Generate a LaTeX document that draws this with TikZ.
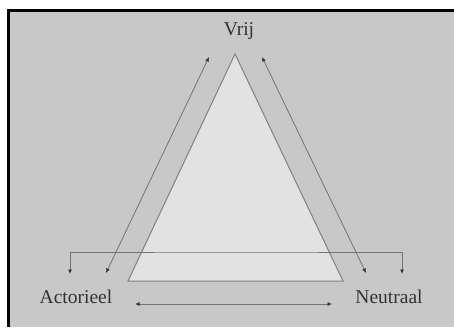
\documentclass[tikz,border=0pt]{standalone}
\usepackage{fontspec}
\setmainfont{Liberation Serif}
\usetikzlibrary{positioning,calc,arrows.meta}
\definecolor{panel}{gray}{0.785}
\definecolor{tri}{gray}{0.885}
\definecolor{lijn}{gray}{0.45}
\definecolor{tekst}{gray}{0.2}
\tikzset{lbl/.style={text=tekst, font=\fontsize{19.5}{22}\selectfont, inner sep=0pt}}
\tikzset{arr/.style={draw=lijn, line width=0.8pt, {Latex[length=4.5pt,width=4pt,color=black!80]}-{Latex[length=4.5pt,width=4pt,color=black!80]}}}
\tikzset{tri/.style={draw=lijn!90, line width=1pt, fill=tri}}

\begin{document}
\begin{tikzpicture}[x=1pt, y=-1pt]
			\useasboundingbox (0,0) rectangle (454,327);
			\fill[white] (0,0) rectangle (454,327);
			\fill[black] (7,9) rectangle (454,327);
			\fill[panel] (10,12) rectangle (454,327);
			%
			\coordinate (T) at (235,54);
			\coordinate (L) at (128,281);
			\coordinate (R) at (343,281);
			\filldraw[tri] (T) -- (L) -- (R) -- cycle;
			%
			\node[lbl] (vrij) at (239,31) {Vrij};
			\node[lbl] (act) at (76,297) {Actorieel};
			\node[lbl] (neu) at (389,297) {Neutraal};
			%
			\coordinate (la1) at (106,273);
			\coordinate (la2) at (209,57);
			\coordinate (ra1) at (262,57);
			\coordinate (ra2) at (366,273);
			\coordinate (b1) at (70,274);
			\coordinate (b2) at (402,274);
			\coordinate (bm) at (236,252);
			\coordinate (c1) at (135,304);
			\coordinate (c2) at (332,304);
			%
			\draw[arr] (la1) -- (la2);
			\draw[arr] (ra1) -- (ra2);
			\draw[arr] (b1) |- (bm) -| (b2);
			\draw[arr] (c1) -- (c2);
		\end{tikzpicture}
\end{document}
